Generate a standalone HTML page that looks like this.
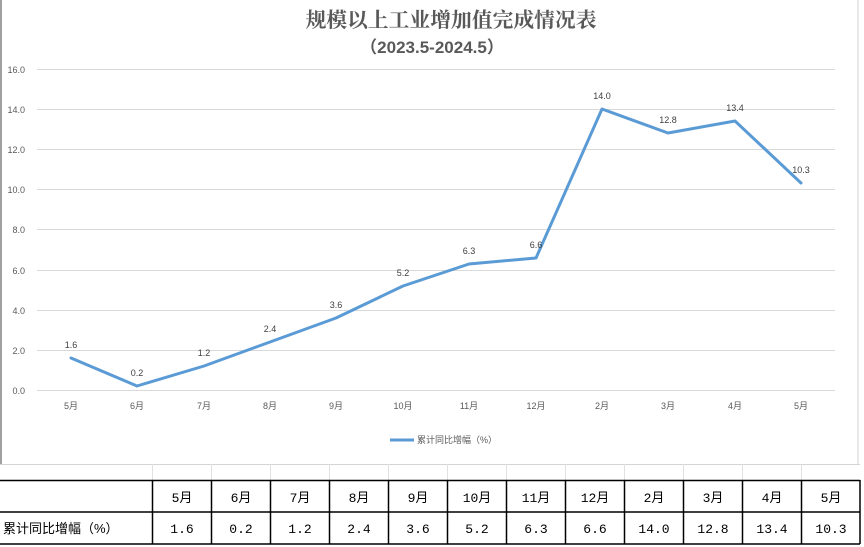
<!DOCTYPE html>
<html><head><meta charset="utf-8"><style>
body{margin:0;background:#fff;}
svg{display:block;font-family:"Liberation Sans","Noto Sans CJK SC",sans-serif;}
</style></head><body>
<svg width="864" height="547" viewBox="0 0 864 547">
<rect width="864" height="547" fill="#fff"/>
<line x1="1" y1="0" x2="1" y2="464" stroke="#a0a0a0" stroke-width="2"/>
<line x1="858" y1="0" x2="858" y2="464" stroke="#d0d0d0" stroke-width="1"/>
<text x="451" y="27" text-anchor="middle" font-size="20.5" font-weight="bold" fill="#595959" font-family="'Liberation Serif','Noto Serif CJK SC',serif" textLength="291" lengthAdjust="spacingAndGlyphs">规模以上工业增加值完成情况表</text>
<text x="432" y="53" text-anchor="middle" font-size="17" font-weight="bold" fill="#595959">（2023.5-2024.5）</text>
<g stroke="#d9d9d9" stroke-width="1">
<line x1="37" y1="69.5" x2="835" y2="69.5"/>
<line x1="37" y1="109.5" x2="835" y2="109.5"/>
<line x1="37" y1="149.5" x2="835" y2="149.5"/>
<line x1="37" y1="189.5" x2="835" y2="189.5"/>
<line x1="37" y1="229.5" x2="835" y2="229.5"/>
<line x1="37" y1="270.5" x2="835" y2="270.5"/>
<line x1="37" y1="310.5" x2="835" y2="310.5"/>
<line x1="37" y1="350.5" x2="835" y2="350.5"/>
<line x1="37" y1="390.5" x2="835" y2="390.5"/>
</g>
<g font-size="9" fill="#595959" text-anchor="end">
<text x="25" y="73">16.0</text><text x="25" y="113">14.0</text><text x="25" y="153">12.0</text>
<text x="25" y="193">10.0</text><text x="25" y="233">8.0</text><text x="25" y="274">6.0</text>
<text x="25" y="314">4.0</text><text x="25" y="354">2.0</text><text x="25" y="394">0.0</text>
</g>
<g font-size="9" fill="#595959" text-anchor="middle">
<text x="71" y="409">5月</text><text x="137" y="409">6月</text><text x="204" y="409">7月</text>
<text x="270" y="409">8月</text><text x="336" y="409">9月</text><text x="403" y="409">10月</text>
<text x="469" y="409">11月</text><text x="536" y="409">12月</text><text x="602" y="409">2月</text>
<text x="668" y="409">3月</text><text x="735" y="409">4月</text><text x="801" y="409">5月</text>
</g>
<polyline fill="none" stroke="#5b9bd5" stroke-width="3" stroke-linejoin="round" stroke-linecap="round"
points="71,358 137,386 204,366 270,342 336,318 403,286 469,264 536,258 602,109 668,133 735,121 801,183"/>
<g font-size="9" fill="#404040" text-anchor="middle">
<text x="71" y="348">1.6</text><text x="137" y="376">0.2</text><text x="204" y="356">1.2</text>
<text x="270" y="332">2.4</text><text x="336" y="308">3.6</text><text x="403" y="276">5.2</text>
<text x="469" y="254">6.3</text><text x="536" y="248">6.6</text><text x="602" y="99">14.0</text>
<text x="668" y="123">12.8</text><text x="735" y="111">13.4</text><text x="801" y="173">10.3</text>
</g>
<line x1="390" y1="440" x2="414" y2="440" stroke="#5b9bd5" stroke-width="3"/>
<text x="417" y="443" font-size="9" fill="#595959">累计同比增幅（%）</text>
<line x1="0" y1="464.5" x2="860" y2="464.5" stroke="#d4d4d4"/>
<g stroke="#e0e0e0"><line x1="152.5" y1="464" x2="152.5" y2="480"/><line x1="211.5" y1="464" x2="211.5" y2="480"/><line x1="270.5" y1="464" x2="270.5" y2="480"/><line x1="329.5" y1="464" x2="329.5" y2="480"/><line x1="388.5" y1="464" x2="388.5" y2="480"/><line x1="447.5" y1="464" x2="447.5" y2="480"/><line x1="506.5" y1="464" x2="506.5" y2="480"/><line x1="565.5" y1="464" x2="565.5" y2="480"/><line x1="624.5" y1="464" x2="624.5" y2="480"/><line x1="683.5" y1="464" x2="683.5" y2="480"/><line x1="742.5" y1="464" x2="742.5" y2="480"/><line x1="801.5" y1="464" x2="801.5" y2="480"/></g>
<g stroke="#000" stroke-width="1.5">
<line x1="0" y1="480.5" x2="860" y2="480.5"/>
<line x1="0" y1="512" x2="860" y2="512"/>
<line x1="0" y1="544" x2="860" y2="544"/>
<line x1="152.5" y1="480" x2="152.5" y2="544"/><line x1="211.5" y1="480" x2="211.5" y2="544"/>
<line x1="270.5" y1="480" x2="270.5" y2="544"/><line x1="329.5" y1="480" x2="329.5" y2="544"/>
<line x1="388.5" y1="480" x2="388.5" y2="544"/><line x1="447.5" y1="480" x2="447.5" y2="544"/>
<line x1="506.5" y1="480" x2="506.5" y2="544"/><line x1="565.5" y1="480" x2="565.5" y2="544"/>
<line x1="624.5" y1="480" x2="624.5" y2="544"/><line x1="683.5" y1="480" x2="683.5" y2="544"/>
<line x1="742.5" y1="480" x2="742.5" y2="544"/><line x1="801.5" y1="480" x2="801.5" y2="544"/>
<line x1="860" y1="480" x2="860" y2="544"/>
</g>
<g font-size="13" fill="#000" text-anchor="middle" font-family="Liberation Mono,'Noto Sans CJK SC',monospace">
<text x="182" y="502">5月</text><text x="241" y="502">6月</text><text x="300" y="502">7月</text>
<text x="359" y="502">8月</text><text x="418" y="502">9月</text><text x="477" y="502">10月</text>
<text x="536" y="502">11月</text><text x="595" y="502">12月</text><text x="654" y="502">2月</text>
<text x="713" y="502">3月</text><text x="772" y="502">4月</text><text x="831" y="502">5月</text>
<text x="182" y="533">1.6</text><text x="241" y="533">0.2</text><text x="300" y="533">1.2</text>
<text x="359" y="533">2.4</text><text x="418" y="533">3.6</text><text x="477" y="533">5.2</text>
<text x="536" y="533">6.3</text><text x="595" y="533">6.6</text><text x="654" y="533">14.0</text>
<text x="713" y="533">12.8</text><text x="772" y="533">13.4</text><text x="831" y="533">10.3</text>
</g>
<text x="3" y="533" font-size="13" fill="#000">累计同比增幅（%）</text>
</svg>
</body></html>
